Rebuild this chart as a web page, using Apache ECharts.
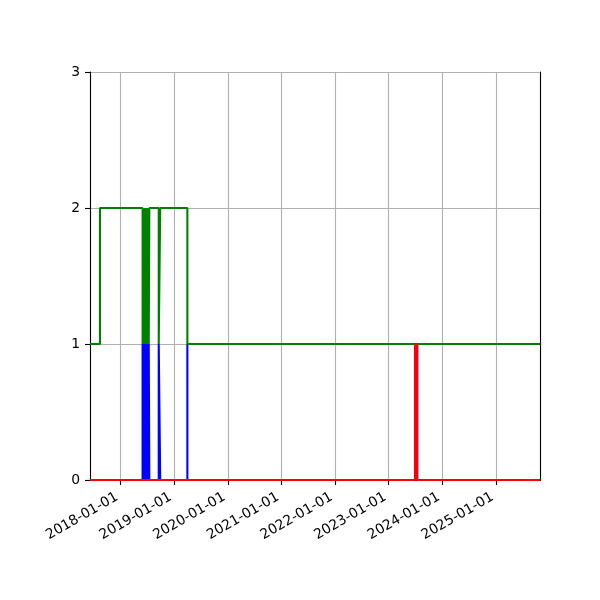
<!DOCTYPE html>
<html>
<head>
<meta charset="utf-8">
<script src="https://cdn.jsdelivr.net/npm/echarts@6/dist/echarts.min.js"></script>
<style>html,body{margin:0;padding:0;background:#fff}#c{width:600px;height:600px}</style>
</head>
<body>
<div id="c"></div>
<script>
var xMin = '2017-06-07';
var xMax = '2025-10-27';
var yTicks = [0, 1, 2, 3];

var greenDates = ['2017-06-07','2017-08-14',
  '2018-05-31','2018-06-03','2018-06-07','2018-06-10','2018-06-14','2018-06-17','2018-06-21',
  '2018-06-24','2018-06-28','2018-07-01','2018-07-05','2018-07-08','2018-07-12','2018-07-16',
  '2018-09-18','2018-09-28','2019-04-01','2025-10-27'];
var greenValues = [1,2, 1,2,1,2,1,2,1, 2,1,2,1,2,1,2, 1,2,1,1];

var blueDates = ['2017-06-07',
  '2018-05-31','2018-06-03','2018-06-07','2018-06-10','2018-06-14','2018-06-17','2018-06-21',
  '2018-06-24','2018-06-28','2018-07-01','2018-07-05','2018-07-08','2018-07-12','2018-07-16',
  '2018-09-18','2018-09-28','2019-04-01','2023-06-29','2023-07-14','2025-10-27'];
var blueValues = [0, 1,0,1,0,1,0,1, 0,1,0,1,0,1,0, 1,0,1,0,1,1];

var redDates = ['2017-06-07','2023-06-29','2023-07-14','2025-10-27'];
var redValues = [0,1,0,0];

function pairs(d, v){ return d.map(function(x,i){ return [x, v[i]]; }); }

var chart = echarts.init(document.getElementById('c'), null, {renderer:'canvas'});
var font = 'DejaVu Sans';
var LW = 2.08;
var spine = {show: true, lineStyle: {color: '#000', width: 1.1}};
chart.setOption({
  animation: false,
  grid: {left: 90, right: 60, top: 72, bottom: 120, show: false},
  xAxis: [{
    type: 'time',
    min: xMin, max: xMax,
    minInterval: 365*24*3600*1000,
    maxInterval: 366*24*3600*1000,
    axisLine: spine,
    axisTick: {show: true, length: 5, lineStyle: {color: '#000', width: 1.1}},
    minorTick: {show: false},
    axisLabel: {
      rotate: 30, margin: 14, padding: [0, 4, 0, 0], color: '#000', fontFamily: font, fontSize: 13.9,
      showMinLabel: false, showMaxLabel: false,
      formatter: function(v){ return echarts.time.format(v, '{yyyy}-{MM}-{dd}', false); }
    },
    splitLine: {show: true, lineStyle: {color: '#b0b0b0', width: 1.1}}
  }, {
    type: 'time', position: 'top',
    min: xMin, max: xMax,
    axisLine: spine, axisTick: {show: false}, axisLabel: {show: false}, splitLine: {show: false}
  }],
  yAxis: [{
    type: 'value',
    min: yTicks[0], max: yTicks[yTicks.length-1], interval: 1,
    axisLine: spine,
    axisTick: {show: true, length: 5, lineStyle: {color: '#000', width: 1.1}},
    axisLabel: {color: '#000', fontFamily: font, fontSize: 13.9, margin: 10},
    splitLine: {show: true, lineStyle: {color: '#b0b0b0', width: 1.1}}
  }, {
    type: 'value', position: 'right',
    min: yTicks[0], max: yTicks[yTicks.length-1], interval: 1,
    axisLine: spine, axisTick: {show: false}, axisLabel: {show: false}, splitLine: {show: false}
  }],
  series: [
    {type: 'line', step: 'end', data: pairs(blueDates, blueValues), symbol: 'none', clip: false,
     lineStyle: {color: '#0000ff', width: LW}, z: 2},
    {type: 'line', step: 'end', data: pairs(greenDates, greenValues), symbol: 'none', clip: false,
     lineStyle: {color: '#008000', width: LW}, z: 3},
    {type: 'line', step: 'end', data: pairs(redDates, redValues), symbol: 'none', clip: false,
     lineStyle: {color: '#ff0000', width: LW}, z: 4}
  ]
});
</script>
</body>
</html>
